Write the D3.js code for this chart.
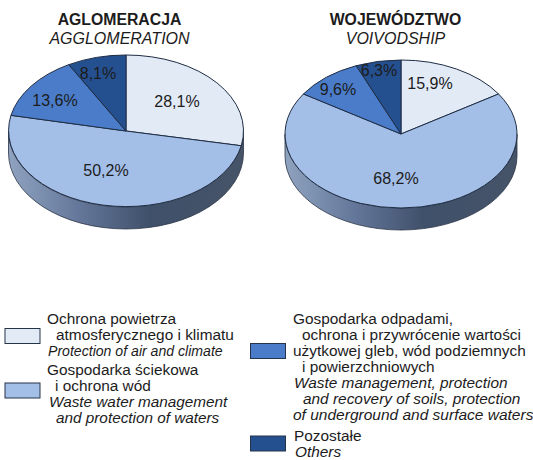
<!DOCTYPE html>
<html>
<head>
<meta charset="utf-8">
<script src="https://d3js.org/d3.v7.min.js"></script>
<style>
  body { margin: 0; background: #fff; }
  text { font-family: "Liberation Sans", Arial, sans-serif; fill: #1c1c1c; }
</style>
</head>
<body>
<svg id="viz" width="533" height="460"></svg>
<script>
// data
const values1 = [28.1, 50.2, 13.6, 8.1];
const values2 = [15.9, 68.2, 9.6, 6.3];
const labels1 = ['28,1%', '50,2%', '13,6%', '8,1%'];
const labels2 = ['15,9%', '68,2%', '9,6%', '6,3%'];
const categories = ['air', 'water', 'waste', 'others'];
const colors = ['#e2eaf6', '#a3bfe8', '#4a7cc9', '#25508f'];

const svg = d3.select('#viz');
const color = d3.scaleOrdinal().domain(categories).range(colors);

// side wall gradient
const grad = svg.append('defs').append('linearGradient')
  .attr('id', 'side').attr('x1', 0).attr('x2', 1).attr('y1', 0).attr('y2', 0);
grad.append('stop').attr('offset', '0%').attr('stop-color', '#8fa3c0');
grad.append('stop').attr('offset', '30%').attr('stop-color', '#64779a');
grad.append('stop').attr('offset', '60%').attr('stop-color', '#3f506a');
grad.append('stop').attr('offset', '100%').attr('stop-color', '#465468');

const pie = d3.pie().sort(null).value((d) => d);
const arc = d3.arc().innerRadius(0).outerRadius(1);

function drawPie(values, labels, cx, cy, rx, ry, depth, labelPos) {
  const g = svg.append('g').attr('transform', 'translate(' + cx + ',' + cy + ')');

  // side wall, the lower half of the ellipse pushed down
  g.append('path')
    .attr('d', 'M' + -rx + ',0 A' + rx + ',' + ry + ' 0 0 0 ' + rx + ',0 ' +
      'L' + rx + ',' + depth + ' A' + rx + ',' + ry + ' 0 0 1 ' + -rx + ',' + depth + ' Z')
    .attr('fill', 'url(#side)')
    .attr('stroke', '#2a3445')
    .attr('stroke-width', 0.8);

  g.selectAll('path.slice')
    .data(pie(values))
    .join('path')
    .attr('class', 'slice')
    .attr('d', arc)
    .attr('transform', 'scale(' + rx + ',' + ry + ')')
    .attr('fill', (d, i) => color(categories[i]))
    .attr('stroke', '#1f2d44')
    .attr('stroke-width', 1)
    .attr('vector-effect', 'non-scaling-stroke');

  g.selectAll('text.lab')
    .data(labels)
    .join('text')
    .attr('class', 'lab')
    .attr('x', (d, i) => labelPos[i][0] - cx)
    .attr('y', (d, i) => labelPos[i][1] - cy)
    .attr('text-anchor', 'middle')
    .style('font-size', '16px')
    .text((d) => d);
}

drawPie(values1, labels1, 126, 131, 117.5, 76, 22,
  [[177, 107], [106, 176], [55, 106], [98, 79]]);
drawPie(values2, labels2, 401, 134, 116, 74, 22,
  [[430, 89], [396, 184], [338, 95], [379, 76]]);

// titles
const titles = [
  { x: 119.5, bold: 'AGLOMERACJA', ital: 'AGGLOMERATION' },
  { x: 395.5, bold: 'WOJEWÓDZTWO', ital: 'VOIVODSHIP' }
];
titles.forEach((t) => {
  svg.append('text').attr('x', t.x).attr('y', 25).attr('text-anchor', 'middle')
    .style('font-size', '15.8px').style('font-weight', 'bold').text(t.bold);
  svg.append('text').attr('x', t.x).attr('y', 44).attr('text-anchor', 'middle')
    .style('font-size', '16px').style('font-style', 'italic').text(t.ital);
});

// legend, each line is [text, x, baseline, italic, font size]
const legendText = [
  { cat: 'air', boxX: 5, boxY: 328.5, lines: [
    ['Ochrona powietrza', 47, 324, 0, 15.4], ['atmosferycznego i klimatu', 56, 340, 0, 15.4],
    ['Protection of air and climate', 48, 355.5, 1, 14.1] ] },
  { cat: 'water', boxX: 5, boxY: 383, lines: [
    ['Gospodarka ściekowa', 47, 375, 0, 15.4], ['i ochrona wód', 55, 391, 0, 15.4],
    ['Waste water management', 49, 406.5, 1, 15.3], ['and protection of waters', 56, 422.5, 1, 15.3] ] },
  { cat: 'waste', boxX: 250.5, boxY: 343.5, lines: [
    ['Gospodarka odpadami,', 293, 324, 0, 15.4], ['ochrona i przywrócenie wartości', 302, 340, 0, 15.4],
    ['użytkowej gleb, wód podziemnych', 293, 356, 0, 15.4], ['i powierzchniowych', 302, 372, 0, 15.4],
    ['Waste management, protection', 294, 387.5, 1, 15.4], ['and recovery of soils, protection', 303, 403.5, 1, 15.4],
    ['of underground and surface waters', 293, 419.5, 1, 15.5] ] },
  { cat: 'others', boxX: 250.5, boxY: 436, lines: [
    ['Pozostałe', 294, 440.5, 0, 15.4], ['Others', 295, 456.5, 1, 15.4] ] }
];
legendText.forEach((l) => {
  svg.append('rect').attr('x', l.boxX).attr('y', l.boxY).attr('width', 35).attr('height', 15)
    .attr('fill', color(l.cat)).attr('stroke', '#26344a').attr('stroke-width', 1);
  l.lines.forEach((t) => {
    svg.append('text').attr('x', t[1]).attr('y', t[2])
      .style('font-size', t[4] + 'px')
      .style('font-style', t[3] ? 'italic' : 'normal')
      .text(t[0]);
  });
});
</script>
</body>
</html>
